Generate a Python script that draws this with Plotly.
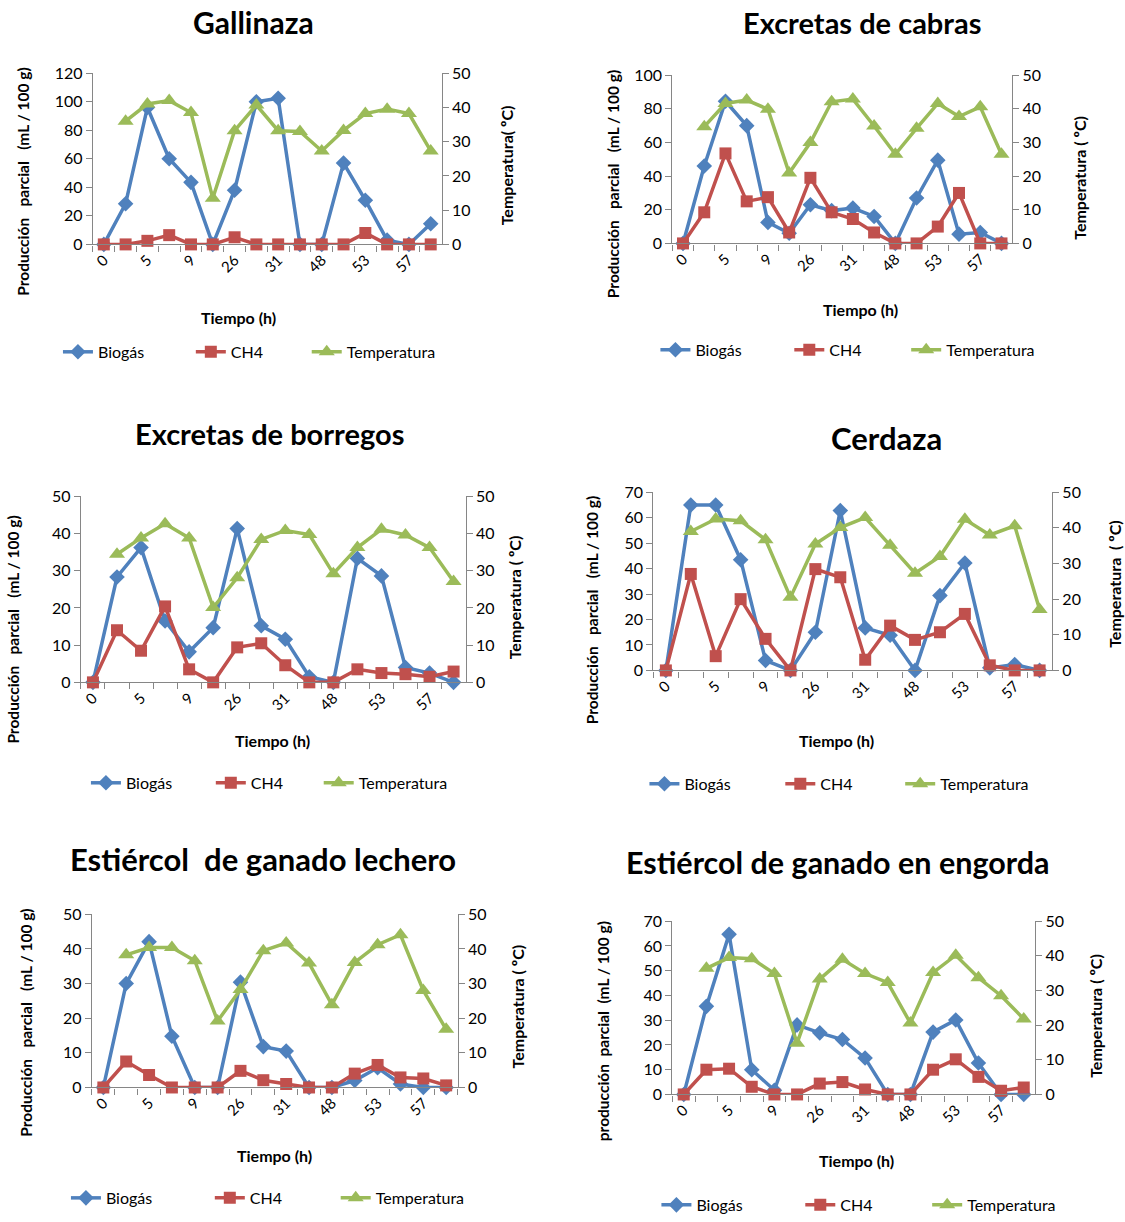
import plotly.graph_objects as go

# Category labels along the time axis (only every other one is printed)
etiquetas_tiempo = ["0", "", "5", "", "9", "", "26", "", "31", "", "48", "", "53", "", "57", ""]
indices = list(range(len(etiquetas_tiempo)))

# Gallinaza
gallinaza_biogas = [0, 28.5, 96, 60, 43.5, 0, 38, 100, 102.5, 0, 0, 57, 31, 3, 0, 14.5]
gallinaza_ch4 = [0, 0, 2.5, 6.5, 0, 0, 5, 0, 0, 0, 0, 0, 8, 0, 0, 0]
gallinaza_temp = [None, 36, 41, 42, 38.5, 13.5, 33.2, 40.7, 33.2, 33, 27.3, 33.3, 38.2, 39.5, 38.2, 27.3]

# Excretas de cabras
cabras_biogas = [0, 46, 84.5, 70, 12.5, 6, 23, 19.5, 21, 16, 0, 27, 49.5, 5.5, 6.5, 0]
cabras_ch4 = [0, 18.5, 53.5, 25, 27.5, 6.5, 39, 18.5, 14.5, 6.5, 0, 0, 10, 30, 0, 0]
cabras_temp = [None, 34.7, 41.6, 42.6, 39.9, 20.9, 30, 42.1, 42.9, 34.9, 26.5, 34.2, 41.6, 37.7, 40.6, 26.5]

# Excretas de borregos
borregos_biogas = [0, 28.3, 36.2, 16.5, 8.2, 14.7, 41.3, 15.2, 11.6, 1.5, 0, 33.3, 28.6, 4, 2.5, 0]
borregos_ch4 = [0, 14, 8.5, 20.4, 3.5, 0, 9.4, 10.5, 4.6, 0, 0, 3.5, 2.5, 2.2, 1.5, 2.9]
borregos_temp = [None, 34.4, 38.8, 42.6, 38.8, 20.1, 28.1, 38.4, 40.8, 39.7, 29.2, 36.2, 41.1, 39.6, 36.2, 27.1]

# Cerdaza
cerdaza_biogas = [0, 65, 65, 43.5, 3.9, 0, 15, 62.8, 16.7, 13.8, 0, 29.4, 42.2, 1, 2.3, 0]
cerdaza_ch4 = [0, 37.9, 5.6, 28, 12.4, 0, 39.8, 36.6, 4.2, 17.6, 12, 15, 22.2, 2, 0, 0]
cerdaza_temp = [None, 39, 42.5, 42, 36.7, 20.5, 35.5, 40.1, 42.9, 35.1, 27.3, 32, 42.4, 38, 40.6, 17.1]

# Estiércol de ganado lechero
lechero_biogas = [0, 30, 42.1, 14.8, 0, 0, 30.4, 11.8, 10.5, 0, 0, 2, 5.7, 1, 0, 0]
lechero_ch4 = [0, 7.5, 3.6, 0, 0, 0, 4.8, 2.1, 1, 0, 0, 4, 6.5, 2.9, 2.6, 0.6]
lechero_temp = [None, 38.3, 40.4, 40.4, 36.6, 19.2, 28.3, 39.5, 41.7, 35.9, 23.9, 36.1, 41.2, 44.1, 28, 16.8]

# Estiércol de ganado en engorda
engorda_biogas = [0, 35.6, 64.7, 10, 1.7, 28.1, 24.9, 22.2, 14.7, 0, 0, 25.2, 30.1, 12.7, 0, 0]
engorda_ch4 = [0, 10, 10.4, 3.1, 0, 0, 4.4, 5, 2, 0, 0, 10, 14.2, 7.1, 1.5, 2.8]
engorda_temp = [None, 36.4, 39.5, 39.2, 34.9, 14.8, 33.3, 39, 34.9, 32.3, 20.6, 35.2, 40.2, 33.7, 28.5, 21.8]

W, H = 1125, 1222
FONT = "Lato, 'Open Sans', sans-serif"
AXIS_GREY = "#868686"
AZUL, ROJO, VERDE = "#4F81BD", "#C0504D", "#9BBB59"
NB = "\u00a0"

def px(x):
    return x / W

def py(y):
    # pixel row (from the top) -> paper fraction, with a small vertical trim
    y = (y - 9.5) / 0.98
    return 1 - y / H

ytitle_std = f"Producción{NB*3}parcial{NB*3}(mL / 100 g)"

paneles = [
    dict(titulo="Gallinaza", tsize=30, bio=gallinaza_biogas, ch4=gallinaza_ch4, temp=gallinaza_temp,
         ymax=120, dtick=20, box=(92, 441, 73, 245),
         t_pos=(253, 22), yt=(ytitle_std, 22, 182), y2t=("Temperatura( ºC)", 506, 166),
         xt=(238, 318), leg=((97, 230, 346), 353)),
    dict(titulo="Excretas de cabras", tsize=29, bio=cabras_biogas, ch4=cabras_ch4, temp=cabras_temp,
         ymax=100, dtick=20, box=(672, 1012, 75, 244),
         t_pos=(862, 22), yt=(ytitle_std, 612, 184), y2t=(f"Temperatura{NB}( ºC)", 1080, 178),
         xt=(860, 310), leg=((695, 829, 946), 351)),
    dict(titulo="Excretas de borregos", tsize=29, bio=borregos_biogas, ch4=borregos_ch4, temp=borregos_temp,
         ymax=50, dtick=10, box=(80, 465, 498, 685),
         t_pos=(269, 435), yt=(ytitle_std, 12, 632), y2t=(f"Temperatura{NB}( ºC)", 514, 600),
         xt=(272, 743), leg=((125, 250, 358), 786)),
    dict(titulo="Cerdaza", tsize=31, bio=cerdaza_biogas, ch4=cerdaza_ch4, temp=cerdaza_temp,
         ymax=70, dtick=10, box=(653, 1052, 494, 673),
         t_pos=(886, 439), yt=(ytitle_std, 591, 612), y2t=(f"Temperatura{NB*2}( ºC)", 1115, 586),
         xt=(836, 743), leg=((684, 820, 940), 787)),
    dict(titulo=f"Estiércol{NB} de ganado lechero", tsize=31, bio=lechero_biogas, ch4=lechero_ch4,
         temp=lechero_temp, ymax=50, dtick=10, box=(91, 457, 918, 1092),
         t_pos=(262, 862), yt=(ytitle_std, 25, 1027), y2t=(f"Temperatura{NB}( ºC)", 517, 1011),
         xt=(274, 1160), leg=((105, 249, 375), 1203)),
    dict(titulo="Estiércol de ganado en engorda", tsize=30.5, bio=engorda_biogas, ch4=engorda_ch4,
         temp=engorda_temp, ymax=70, dtick=10, box=(672, 1035, 925, 1099),
         t_pos=(838, 865), yt=(f"producción{NB*2}parcial{NB*2}(mL / 100 g)", 602, 1035),
         y2t=(f"Temperatura{NB}( ºC)", 1096, 1020),
         xt=(856, 1165), leg=((696, 840, 967), 1210)),
]

fig = go.Figure()
layout = dict(
    width=W, height=H, autosize=False,
    margin=dict(l=0, r=0, t=0, b=0),
    paper_bgcolor="white", plot_bgcolor="white",
    font=dict(family=FONT, size=15, color="#000000"),
    showlegend=True,
)
annotations = []
legend_n = 0

for k, p in enumerate(paneles, start=1):
    xa = "x" if k == 1 else f"x{k}"
    ya1_n, ya2_n = 2 * k - 1, 2 * k
    ya1 = "y" if ya1_n == 1 else f"y{ya1_n}"
    ya2 = f"y{ya2_n}"
    x0, x1, y0, y1 = p["box"]

    series = [
        ("Biogás", p["bio"], AZUL, dict(symbol="diamond", size=12), ya1),
        ("CH4", p["ch4"], ROJO, dict(symbol="square", size=12), ya1),
        ("Temperatura", p["temp"], VERDE, dict(symbol="triangle-up", size=14), ya2),
    ]
    for j, (nombre, valores, color, mk, yref) in enumerate(series):
        legend_n += 1
        lname = "legend" if legend_n == 1 else f"legend{legend_n}"
        fig.add_trace(go.Scatter(
            x=indices, y=valores, name=nombre, mode="lines+markers",
            line=dict(color=color, width=3.5),
            marker=dict(color=color, **mk),
            xaxis=xa, yaxis=yref, cliponaxis=False,
            legend=lname, connectgaps=False,
        ))
        text_x = p["leg"][0][j]
        layout[lname] = dict(
            x=px(text_x - 40), y=py(p["leg"][1]), xanchor="left", yanchor="middle",
            orientation="h", bgcolor="rgba(0,0,0,0)", borderwidth=0,
            font=dict(family=FONT, size=16, color="#000000"),
        )

    xkey = "xaxis" if k == 1 else f"xaxis{k}"
    layout[xkey] = dict(
        domain=[px(x0), px(x1)], anchor=ya1, type="category",
        range=[-0.5, len(indices) - 0.5],
        tickmode="array", tickvals=indices, ticktext=etiquetas_tiempo,
        tickson="boundaries", ticks="outside", ticklen=6, tickcolor=AXIS_GREY,
        tickangle=-45, tickfont=dict(size=15, color="#000000"),
        showline=True, linecolor=AXIS_GREY, linewidth=1.2,
        showgrid=False, zeroline=False,
    )
    y1key = "yaxis" if ya1_n == 1 else f"yaxis{ya1_n}"
    layout[y1key] = dict(
        domain=[py(y1), py(y0)], anchor=xa, range=[0, p["ymax"]], dtick=p["dtick"],
        ticks="outside", ticklen=6, tickcolor=AXIS_GREY,
        tickfont=dict(size=16, color="#000000"),
        showline=True, linecolor=AXIS_GREY, linewidth=1.2,
        showgrid=False, zeroline=False,
    )
    layout[f"yaxis{ya2_n}"] = dict(
        overlaying=ya1, side="right", anchor=xa, range=[0, 50], dtick=10,
        ticks="outside", ticklen=6, tickcolor=AXIS_GREY,
        tickfont=dict(size=16, color="#000000"),
        showline=True, linecolor=AXIS_GREY, linewidth=1.2,
        showgrid=False, zeroline=False,
    )

    tx, ty = p["t_pos"]
    annotations.append(dict(text=f"<b>{p['titulo']}</b>", x=px(tx), y=py(ty), xref="paper", yref="paper",
                            showarrow=False, xanchor="center", yanchor="middle",
                            font=dict(family=FONT, size=p["tsize"], color="#000000")))
    txt, yx, yy = p["yt"]
    annotations.append(dict(text=f"<b>{txt}</b>", x=px(yx), y=py(yy), xref="paper", yref="paper",
                            showarrow=False, textangle=-90, xanchor="center", yanchor="middle",
                            font=dict(family=FONT, size=15.5, color="#000000")))
    txt2, y2x, y2y = p["y2t"]
    annotations.append(dict(text=f"<b>{txt2}</b>", x=px(y2x), y=py(y2y), xref="paper", yref="paper",
                            showarrow=False, textangle=-90, xanchor="center", yanchor="middle",
                            font=dict(family=FONT, size=16, color="#000000")))
    xtx, xty = p["xt"]
    annotations.append(dict(text="<b>Tiempo (h)</b>", x=px(xtx), y=py(xty), xref="paper", yref="paper",
                            showarrow=False, xanchor="center", yanchor="middle",
                            font=dict(family=FONT, size=16, color="#000000")))

layout["annotations"] = annotations
fig.update_layout(**layout)
fig.write_html("out.html", post_script="document.body.style.margin = '0';")
